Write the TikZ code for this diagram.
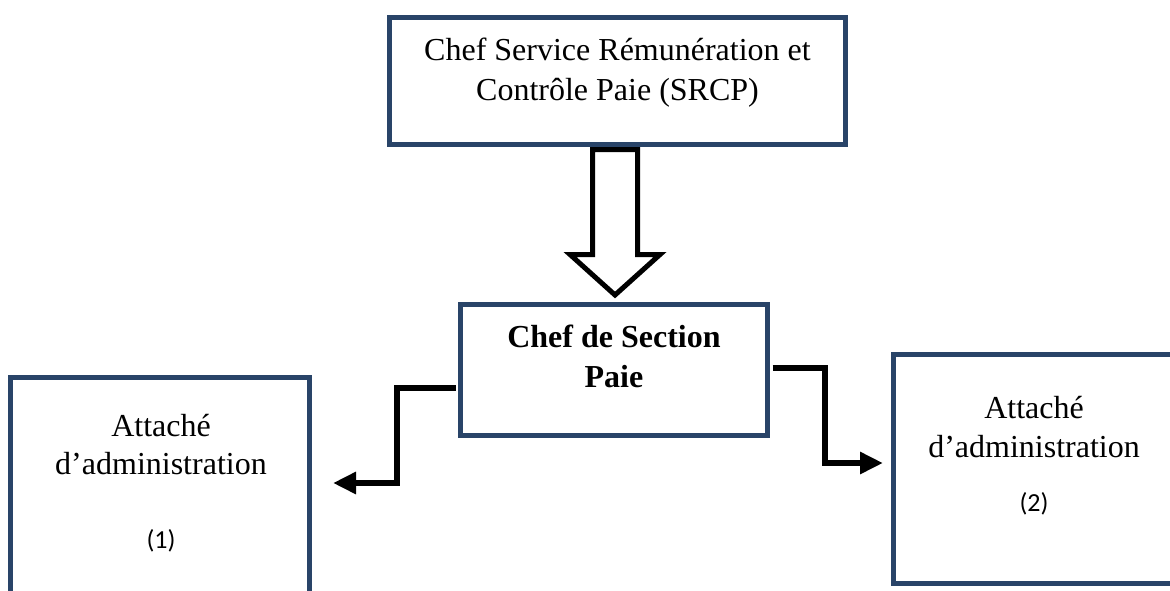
\documentclass[tikz,border=0pt]{standalone}
\usepackage{fontspec}
\setmainfont{Liberation Serif}
\newfontfamily\calib{Carlito}
\usetikzlibrary{arrows.meta}
\definecolor{boxblue}{RGB}{41,68,104}
\begin{document}
\begin{tikzpicture}[x=1pt,y=-1pt,
  box/.style={draw=boxblue, line width=5pt, rectangle, inner sep=0pt, fill=white},
  lbl/.style={anchor=base, inner sep=0pt, font=\fontsize{32}{40}\selectfont},
  blbl/.style={lbl, font=\fontsize{32}{40}\selectfont\bfseries},
  num/.style={anchor=center, inner sep=0pt, font=\calib\fontsize{26}{30}\selectfont},
  conn/.style={draw=black, line width=6.5pt, -{Triangle[length=23pt,width=21pt]}},
  hollow/.style={draw=black, fill=white, line width=5pt, line join=miter, miter limit=10}]
\useasboundingbox (0,0) rectangle (1170,590);
\clip (0,0) rectangle (1170,590);

% boxes
\node[box, minimum width=456pt, minimum height=127pt] (top) at (617.5,81) {};
\node[box, minimum width=307pt, minimum height=131pt] (sec) at (614,370) {};
\node[box, minimum width=299pt, minimum height=260pt] (att1) at (160,507.5) {};
\node[box, minimum width=281pt, minimum height=229pt] (att2) at (1034,469) {};

% box texts
\node[lbl] (t1a) at (617.5,60) {Chef Service Rémunération et};
\node[lbl] (t1b) at (617.5,100) {Contrôle Paie (SRCP)};
\node[blbl] (t2a) at (614,347) {Chef de Section};
\node[blbl] (t2b) at (614,387) {Paie};
\node[lbl] (t3a) at (161,436) {Attaché};
\node[lbl] (t3b) at (161,474) {d’administration};
\node[num] (t3c) at (161,541) {(1)};
\node[lbl] (t4a) at (1034,418) {Attaché};
\node[lbl] (t4b) at (1034,457) {d’administration};
\node[num] (t4c) at (1034,504) {(2)};

% hollow block arrow between the two chiefs
\coordinate (ha) at (615,149.5);
\coordinate (tip) at (615,295);
\draw[hollow] ([xshift=-22.5pt]ha) -- ++(0,105) -- ++(-22.5,0) -- (tip)
  -- ++(45,-40.5) -- ++(-22.5,0) -- ([xshift=22.5pt]ha) -- cycle;

% elbow connectors to the two attachés
\coordinate (b1) at (397,483);
\coordinate (e1) at (333,483);
\coordinate (b2) at (825,463);
\coordinate (e2) at (883,463);
\draw[conn] ([xshift=-2.5pt,yshift=-18pt]sec.west) -| (b1) -- (e1);
\draw[conn] ([xshift=2.5pt,yshift=2pt]sec.east) -| (b2) -- (e2);
\end{tikzpicture}
\end{document}
